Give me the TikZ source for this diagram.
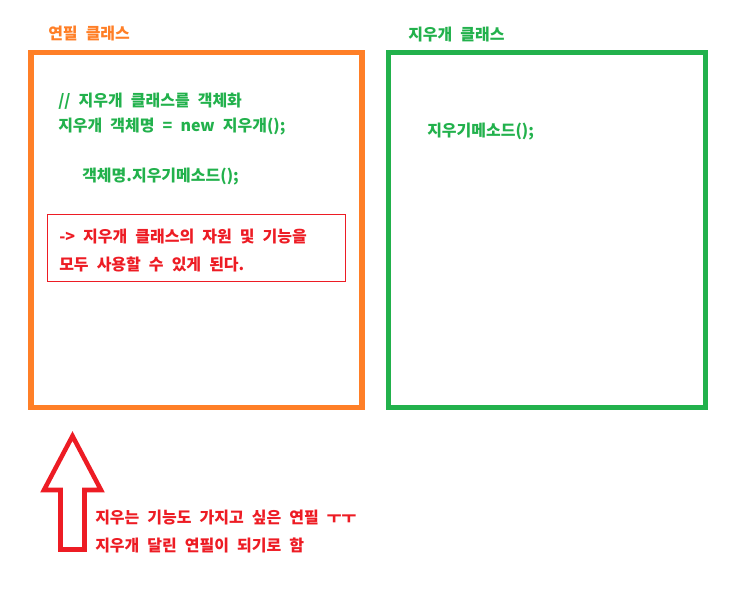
\documentclass[tikz,border=0pt]{standalone}
\usepackage{fontspec}
\setmainfont[WordSpace=2.2]{Noto Sans CJK KR}
\usetikzlibrary{positioning}
\definecolor{penorange}{RGB}{255,127,39}
\definecolor{erasergreen}{RGB}{34,177,76}
\definecolor{notered}{RGB}{237,28,36}

\begin{document}
\begin{tikzpicture}[x=0.75pt,y=-0.75pt,font=\bfseries\fontsize{12}{14}\selectfont]
\useasboundingbox (0,0) rectangle (739,592);
\node[draw=penorange, line width=3.8pt, minimum width=331pt*0.75, minimum height=354.5pt*0.75, inner sep=0pt] (pencil) at (196.5,229.8){};
\node[draw=erasergreen, line width=3.8pt, minimum width=317pt*0.75, minimum height=354.5pt*0.75, inner sep=0pt] (eraser) at (547,229.8){};
\node[anchor=west, inner sep=0pt, text=penorange] (pencilname) at (48,34) {연필 클래스};
\node[anchor=west, inner sep=0pt, text=erasergreen] (erasername) at (408,35) {지우개 클래스};
\node[anchor=west, inner sep=0pt, text=erasergreen] (comment) at (58,101) {// 지우개 클래스를 객체화};
\node[anchor=west, inner sep=0pt, text=erasergreen] (create) at (58,127) {지우개 객체명 = new 지우개();};
\node[anchor=west, inner sep=0pt, text=erasergreen] (call) at (82,177) {객체명.지우기메소드();};
\node[anchor=west, inner sep=0pt, text=erasergreen] (method) at (427,132) {지우기메소드();};
\node[draw=notered, line width=0.75pt, minimum width=298pt*0.75, minimum height=67pt*0.75, inner sep=0pt] (result) at (196,247.5){};
\node[anchor=west, inner sep=0pt, text=notered] (result1) at (59,237) {-> 지우개 클래스의 자원 및 기능을};
\node[anchor=west, inner sep=0pt, text=notered] (result2) at (59,264) {모두 사용할 수 있게 된다.};
\draw[notered, line width=3.4pt, line join=miter] (72.5,436) -- (101,490) -- (84.5,490) -- (84.5,549.5) -- (60.5,549.5) -- (60.5,490) -- (44,490) -- cycle;
\node[anchor=west, inner sep=0pt, text=notered] (wish) at (95,518) {지우는 기능도 가지고 싶은 연필 ㅜㅜ};
\node[anchor=west, inner sep=0pt, text=notered] (decide) at (95,545) {지우개 달린 연필이 되기로 함};
\end{tikzpicture}
\end{document}
